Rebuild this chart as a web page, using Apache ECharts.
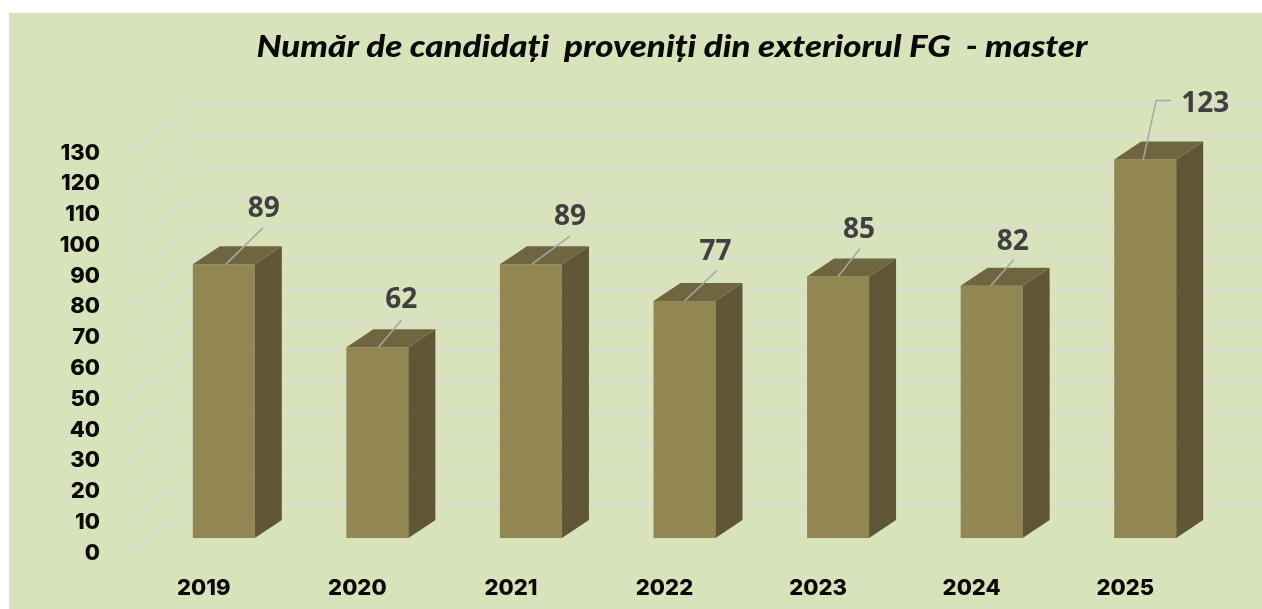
<!DOCTYPE html>
<html><head><meta charset="utf-8">
<style>html,body{margin:0;padding:0;background:#fff}#c{width:1262px;height:609px}</style>
<script src="https://cdn.jsdelivr.net/npm/echarts@6/dist/echarts.min.js"></script>
</head><body><div id="c"></div>
<script>
const titleText = 'Număr de candidați  proveniți din exteriorul FG  - master';
const years = ['2019','2020','2021','2022','2023','2024','2025'];
const candidates = [89,62,89,77,85,82,123];
const gridTicks = [0,10,20,30,40,50,60,70,80,90,100,110,120,130];

// 3D look: screen offsets of the bar plane and wall from the axis plane
const BAR = {dx:20, dy:-15, w:62, sx:27, sy:-18};
const WALL = {dx:68, dy:-48};
// leader polylines and label anchors, relative to the centre of each bar's top front edge
const leaders = [
  {pts:[[2,0],[39,-36]], lab:[40,-55]},
  {pts:[[1,0],[24,-27]], lab:[24,-47]},
  {pts:[[1,0],[39,-28]], lab:[39,-47]},
  {pts:[[0,0],[33,-31]], lab:[31,-49]},
  {pts:[[0,0],[22,-28]], lab:[21,-46]},
  {pts:[[-1,0],[22,-26]], lab:[21,-44]},
  {pts:[[-2,0],[11,-59],[26,-59]], lab:[60,-56]}
];

const chart = echarts.init(document.getElementById('c'), null, {renderer:'canvas'});
chart.setOption({
  animation:false,
  backgroundColor:'#ffffff',
  graphic:[
    {type:'rect',z:-10,silent:true,shape:{x:9,y:13,width:1253,height:596},style:{fill:'#D8E3BC'}},
    {type:'text',z:10,silent:true,x:672,y:47,scaleX:1.162,style:{text:titleText,align:'center',verticalAlign:'middle',
      fill:'#0a0a0a',font:'italic 900 30px Lato'}}
  ],
  grid:{left:127,top:153,width:1075,bottom:56},
  xAxis:{type:'category',data:years,axisLine:{show:false},axisTick:{show:false},splitLine:{show:false},
    axisLabel:{margin:24,color:'#0a0a0a',fontFamily:'Inter',fontWeight:800,fontSize:22}},
  yAxis:{type:'value',min:0,max:130,interval:10,axisLine:{show:false},axisTick:{show:false},splitLine:{show:false},
    axisLabel:{margin:27,padding:[5,0,0,0],color:'#0a0a0a',fontFamily:'Inter',fontWeight:800,fontSize:22}},
  series:[
    {type:'custom',name:'grid',silent:true,z:1,clip:false,
     data:gridTicks.map(v=>[0,v]),encode:{x:0,y:1},
     renderItem(params,api){
       const y=api.coord([0,api.value(1)])[1], cs=params.coordSys;
       return {type:'polyline',shape:{points:[[cs.x,y],[cs.x+WALL.dx,y+WALL.dy],[cs.x+cs.width+WALL.dx,y+WALL.dy]]},
         style:{fill:null,stroke:'#D9DAD2',lineWidth:2}};
     }},
    {type:'custom',name:'Candidați',silent:true,z:2,clip:false,
     data:candidates.map((v,i)=>[i,v]),encode:{x:0,y:1},
     renderItem(params,api){
       const i=api.value(0), v=api.value(1);
       const top=api.coord([i,v]), base=api.coord([i,0]);
       const x0=top[0]+BAR.dx-BAR.w/2, x1=x0+BAR.w, yT=top[1]+BAR.dy, yB=base[1]+BAR.dy;
       const poly=(pts,fill)=>({type:'polygon',shape:{points:pts},style:{fill}});
       return {type:'group',children:[
         poly([[x0,yT],[x1,yT],[x1,yB],[x0,yB]],'#928753'),
         poly([[x1,yT],[x1+BAR.sx,yT+BAR.sy],[x1+BAR.sx,yB+BAR.sy],[x1,yB]],'#5F5635'),
         poly([[x0,yT],[x0+BAR.sx,yT+BAR.sy],[x1+BAR.sx,yT+BAR.sy],[x1,yT]],'#6F663F')
       ]};
     }},
    {type:'custom',name:'labels',silent:true,z:3,clip:false,
     data:candidates.map((v,i)=>[i,v]),encode:{x:0,y:1},
     renderItem(params,api){
       const i=api.value(0), v=api.value(1), L=leaders[i];
       const top=api.coord([i,v]), cx=top[0]+BAR.dx, cy=top[1]+BAR.dy;
       return {type:'group',children:[
         {type:'polyline',shape:{points:L.pts.map(p=>[cx+p[0],cy+p[1]])},style:{fill:null,stroke:'#A6A6A6',lineWidth:1.5}},
         {type:'text',x:cx+L.lab[0],y:cy+L.lab[1],style:{text:String(v),align:'center',verticalAlign:'middle',
           fill:'#404040',font:'bold 28px "Open Sans"'}}
       ]};
     }}
  ]
});
</script></body></html>
